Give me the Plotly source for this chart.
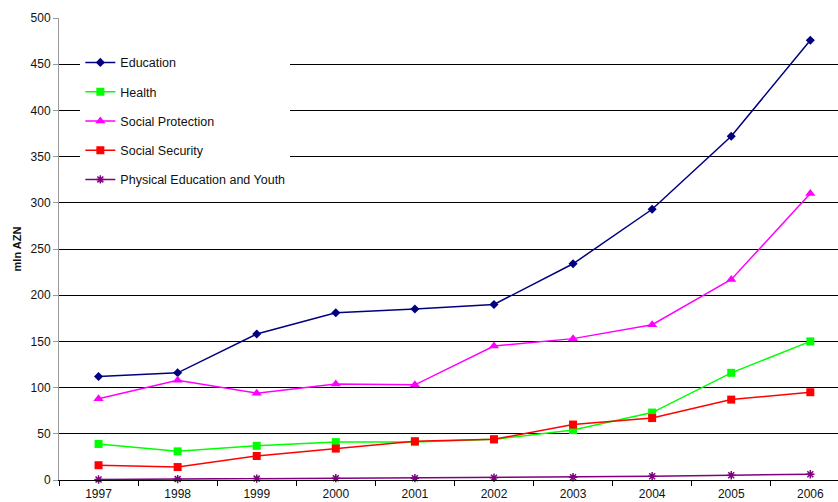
import plotly.graph_objects as go

# Public expenditure by function, mln AZN
years = ["1997", "1998", "1999", "2000", "2001", "2002", "2003", "2004", "2005", "2006"]
education = [112, 116, 158, 181, 185, 190, 234, 293, 372, 476]
health = [39, 31, 37, 41, 41, 44, 54, 73, 116, 150]
social_protection = [88, 108, 94, 104, 103, 145, 153, 168, 217, 310]
social_security = [16, 14, 26, 34, 42, 44, 60, 67, 87, 95]
phys_ed_youth = [0.5, 1, 1.5, 2, 2, 2.4, 3, 4, 5.2, 6.3]

series = [
    ("Education", education, "#000080", "diamond", 7),
    ("Health", health, "#00ff00", "square", 8),
    ("Social Protection", social_protection, "#ff00ff", "triangle-up", 9),
    ("Social Security", social_security, "#ff0000", "square", 8),
    ("Physical Education and Youth", phys_ed_youth, "#800080", "asterisk-open", 7),
]

FONT = "Arial, Liberation Sans, sans-serif"

fig = go.Figure()
for i, (name, vals, color, symbol, size) in enumerate(series):
    fig.add_trace(go.Scatter(
        x=years, y=vals, name=name, mode="lines+markers",
        legendgroup=str(i),
        line=dict(color=color, width=1.5),
        marker=dict(symbol=symbol, size=size, color=color,
                    line=dict(color=color, width=1.5 if symbol == "asterisk-open" else 0)),
        cliponaxis=False,
    ))

fig.update_layout(
    width=838, height=502,
    margin=dict(l=59, r=0, t=18, b=22),
    paper_bgcolor="white", plot_bgcolor="white",
    font=dict(family=FONT, size=12, color="#111"),
    showlegend=True,
    legend=dict(
        x=0.0274, y=0.9355, xanchor="left", yanchor="top",
        bgcolor="white", borderwidth=0,
        font=dict(family=FONT, size=12.5, color="#111"),
        tracegroupgap=10, itemwidth=30,
        entrywidth=200, entrywidthmode="pixels",
    ),
    xaxis=dict(
        type="category", range=[-0.5, 9.35],
        showgrid=False, showline=True, linecolor="black", linewidth=1,
        ticks="outside", tickson="boundaries", ticklen=5, tickcolor="black",
        tickfont=dict(family=FONT, size=12, color="#111"),
        ticklabelstandoff=3,
        zeroline=False,
    ),
    yaxis=dict(
        range=[0, 500], dtick=50,
        showgrid=True, gridcolor="black", gridwidth=1,
        showline=True, linecolor="#9a9a9a", linewidth=1,
        ticks="outside", ticklen=5, tickcolor="#9a9a9a",
        tickfont=dict(family=FONT, size=12, color="#111"),
        zeroline=False,
        title=dict(text="<b>mln AZN</b>", font=dict(family=FONT, size=11, color="#111"), standoff=6),
    ),
)

fig.write_html("out.html")
